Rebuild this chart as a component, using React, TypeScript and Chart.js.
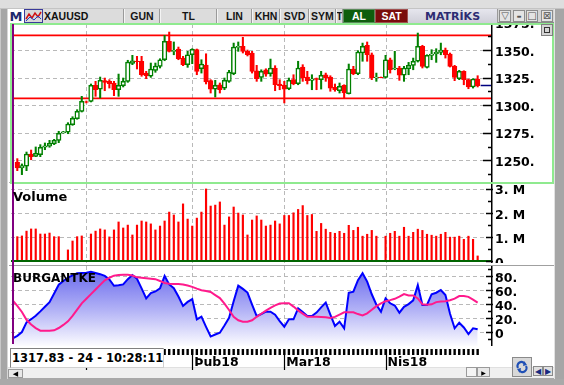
import React, { useEffect, useRef } from 'react';
import { Chart, registerables } from 'chart.js';

Chart.register(...registerables);

// ================= DATA =================
const candleOpen = [
  1248.2, 1243.0, 1244.6, 1255.7, 1253.6, 1255.1, 1261.8, 1262.7, 1265.1, 1268.1,
  1274.8, 1275.4, 1282.3, 1287.7, 1294.4, 1303.1, 1303.5, 1318.0, 1314.6, 1322.2,
  1321.6, 1320.1, 1314.0, 1317.6, 1321.6, 1337.9, 1340.0, 1339.8, 1329.1, 1326.2,
  1331.6, 1335.2, 1341.2, 1357.9, 1348.8, 1350.9, 1342.7, 1336.7, 1345.7, 1350.3,
  1333.0, 1336.4, 1322.2, 1314.6, 1318.5, 1315.5, 1321.6, 1328.5, 1352.4, 1353.4,
  1348.8, 1347.3, 1331.2, 1325.2, 1332.1, 1328.5, 1333.7, 1319.2, 1318.0, 1314.9,
  1323.1, 1319.4, 1334.6, 1325.5, 1322.5, 1324.0, 1323.1, 1327.6, 1325.5, 1316.2,
  1313.1, 1318.0, 1310.4, 1332.8, 1328.5, 1347.3, 1354.3, 1345.7, 1324.9, 1325.3,
  1325.2, 1341.2, 1332.8, 1333.7, 1327.1, 1333.0, 1336.1, 1339.8, 1353.4, 1334.3,
  1345.2, 1346.4, 1347.9, 1350.0, 1346.4, 1335.2, 1324.0, 1330.7, 1323.1, 1316.5,
  1323.7,
];
const candleClose = [
  1243.0, 1245.1, 1255.7, 1253.3, 1256.3, 1261.8, 1263.2, 1265.4, 1268.1, 1274.5,
  1275.7, 1282.9, 1288.1, 1294.4, 1303.5, 1302.6, 1318.0, 1314.0, 1322.5, 1320.7,
  1319.4, 1314.0, 1318.0, 1321.6, 1339.1, 1340.3, 1339.4, 1327.6, 1326.7, 1332.8,
  1335.5, 1341.2, 1357.9, 1348.8, 1349.7, 1342.1, 1336.7, 1345.7, 1350.6, 1330.7,
  1337.3, 1321.0, 1314.6, 1318.0, 1314.0, 1322.5, 1330.1, 1352.7, 1353.4, 1348.8,
  1345.7, 1330.7, 1324.0, 1330.7, 1328.2, 1333.7, 1318.5, 1317.6, 1314.6, 1322.5,
  1319.4, 1333.7, 1324.6, 1322.2, 1323.7, 1323.4, 1327.1, 1324.6, 1315.5, 1314.0,
  1317.1, 1311.0, 1332.8, 1328.5, 1348.2, 1353.4, 1345.7, 1324.6, 1325.5, 1325.0,
  1341.2, 1332.1, 1333.7, 1327.1, 1333.7, 1336.1, 1339.8, 1353.4, 1335.2, 1345.2,
  1346.4, 1348.2, 1350.0, 1345.7, 1335.2, 1325.2, 1330.7, 1323.1, 1316.5, 1323.7,
  1317.6,
];
const candleHigh = [
  1251.5, 1246.7, 1257.5, 1259.3, 1262.1, 1264.2, 1265.7, 1268.1, 1269.0, 1276.3,
  1276.3, 1284.1, 1289.5, 1295.9, 1308.0, 1303.8, 1319.2, 1321.6, 1325.5, 1324.6,
  1323.1, 1321.6, 1328.2, 1324.6, 1340.7, 1345.2, 1344.3, 1344.3, 1330.7, 1338.2,
  1338.2, 1342.1, 1363.3, 1366.3, 1357.3, 1352.7, 1344.3, 1348.8, 1351.2, 1350.9,
  1341.2, 1346.6, 1323.1, 1322.5, 1320.1, 1324.6, 1331.6, 1356.3, 1357.3, 1361.5,
  1350.0, 1348.8, 1336.1, 1332.1, 1333.0, 1341.8, 1335.8, 1323.1, 1321.6, 1324.6,
  1327.6, 1339.8, 1336.7, 1330.7, 1327.6, 1324.6, 1330.7, 1329.1, 1326.7, 1319.2,
  1320.1, 1318.5, 1337.3, 1335.2, 1349.4, 1356.3, 1357.3, 1347.3, 1329.1, 1325.5,
  1345.2, 1342.7, 1348.8, 1335.2, 1335.2, 1338.8, 1342.7, 1365.4, 1354.3, 1345.7,
  1350.3, 1351.2, 1356.3, 1351.8, 1347.3, 1336.1, 1331.6, 1331.2, 1323.7, 1324.0,
  1326.7,
];
const candleLow = [
  1240.6, 1237.0, 1240.6, 1250.5, 1253.3, 1253.3, 1259.6, 1261.8, 1264.2, 1266.0,
  1274.5, 1274.1, 1281.7, 1287.2, 1293.8, 1302.0, 1302.9, 1308.0, 1306.5, 1313.1,
  1315.5, 1308.6, 1308.0, 1316.5, 1320.7, 1336.7, 1332.8, 1326.2, 1324.0, 1325.2,
  1329.8, 1333.7, 1340.3, 1348.2, 1345.7, 1341.2, 1335.8, 1334.3, 1337.6, 1327.6,
  1329.1, 1319.2, 1311.0, 1307.4, 1311.0, 1314.0, 1320.7, 1327.6, 1348.8, 1347.3,
  1344.6, 1329.1, 1321.6, 1321.6, 1326.2, 1326.2, 1313.1, 1314.0, 1302.0, 1314.0,
  1318.5, 1318.5, 1321.6, 1319.2, 1314.0, 1314.0, 1314.6, 1321.6, 1312.6, 1312.6,
  1311.0, 1306.5, 1310.1, 1327.6, 1327.6, 1339.8, 1339.8, 1323.1, 1321.6, 1324.8,
  1324.6, 1329.1, 1332.1, 1322.5, 1321.6, 1327.6, 1332.1, 1339.1, 1333.7, 1333.7,
  1341.2, 1338.8, 1345.7, 1342.7, 1334.6, 1322.2, 1323.1, 1318.5, 1314.9, 1315.5,
  1316.5,
];
// volume in millions
const volumeM = [
  1.01, 1.04, 1.24, 1.33, 1.33, 1.12, 1.12, 1.16, 1.01, 1.01,
  0, 0.46, 0.83, 1.01, 1.04, 0, 1.12, 1.24, 1.33, 1.29,
  1.00, 1.29, 1.62, 1.37, 1.49, 1.08, 1.49, 1.66, 1.62, 1.54,
  1.29, 1.45, 1.66, 2.03, 1.91, 1.62, 2.37, 1.74, 1.45, 1.78,
  2.03, 2.99, 2.28, 2.32, 2.45, 1.49, 1.83, 2.24, 1.99, 1.91,
  1.08, 1.70, 1.87, 1.70, 1.45, 1.49, 1.66, 1.54, 1.89, 1.89,
  2.00, 2.14, 2.30, 1.89, 1.93, 1.23, 1.56, 1.32, 1.19, 1.15,
  1.23, 1.15, 1.48, 1.27, 1.40, 1.03, 1.11, 1.27, 1.03, 0,
  1.03, 1.15, 1.23, 1.03, 1.40, 1.03, 1.19, 1.32, 1.27, 1.11,
  1.07, 1.03, 1.11, 1.19, 0.99, 0.99, 1.03, 0.90, 1.03, 0.90,
  0.21,
];
// BURGANTKE indicator (index 0 = day before first candle)
const burgantke = [
  -9,
  -5.5, 0, 13.8, 18.3, 23.2, 29.5, 36.1, 42.6, 55, 67.6,
  72.8, 77.6, 80.9, 83.9, 84.3, 84.7, 86, 84.4, 82.6, 80.1,
  75, 66, 66.7, 68, 75.5, 81.4, 76, 62.3, 48.1, 55.6,
  57.9, 62.4, 80, 68, 62.6, 50.6, 37.3, 43, 47, 18.1,
  21.9, 7.4, -6.5, -3.6, -1, 9.3, 20.3, 44, 66.3, 61.6,
  56.4, 39, 22.6, 25.7, 29, 29, 24.6, 15.5, 7.6, 18.1,
  18.1, 33.9, 28.4, 22.9, 22.9, 27.8, 35.2, 41.9, 24.9, 8.6,
  14.7, 5.3, 56.1, 57.6, 74, 84, 72, 53.9, 39, 29,
  48, 41, 37.8, 27.6, 36, 39.9, 45.2, 67, 38.6, 38.6,
  54, 56.1, 60, 52.9, 26, 5.3, 13.3, 6.5, -2.9, 5.3,
  3.9,
];
const signalLine = [
  45,
  37.4, 28.6, 17.4, 10.8, 5.6, 1.9, 1.9, 1.9, 2.4, 5.7,
  10.1, 15.3, 23, 31.9, 41, 47.5, 54.1, 60.7, 67.3, 73.9,
  77.5, 80.5, 81.6, 81.9, 81.9, 80.6, 78.1, 77.4, 76.8, 76.1,
  75.5, 72.9, 70, 68.8, 68.6, 68.6, 67.8, 66.4, 64.5, 61.9,
  59.7, 58.6, 57.1, 52.8, 48.4, 40.4, 31.4, 21.6, 16.7, 14.7,
  14.7, 16.7, 21.7, 26.1, 30.5, 34.5, 38, 40.7, 41, 41,
  36.3, 30.9, 26.2, 21.9, 21.9, 21.9, 21.5, 21, 19.9, 21.6,
  24.9, 28.1, 28.1, 28.1, 25.6, 23.7, 26.7, 31.7, 37, 41,
  44, 45.5, 47.4, 50.4, 54.1, 52.1, 52.3, 47.9, 39.5, 39,
  39.5, 42.7, 43.7, 44.1, 45.4, 47.6, 51.4, 51.4, 50.2, 46.2,
  42,
];
const monthStarts = [16, 39, 59, 81];
const monthLabels = ['Oca18', 'Þub18', 'Mar18', 'Nis18'];
const priceTicks = [1250, 1275, 1300, 1325, 1350, 1375];
const volumeTicks = [0, 1, 2, 3];
const indicatorTicks = [0, 20, 40, 60, 80];
const trendLevels = [1363.3, 1306.2];
const lastPrice = 1317.83;
const symbol = 'XAUUSD';
const infoText = '1317.83 - 24 - 10:28:11';
const toolbarItems = [
  { t: 'GUN', x: 124, w: 36 },
  { t: 'TL', x: 160, w: 57 },
  { t: 'LIN', x: 217, w: 35 },
  { t: 'KHN', x: 252, w: 28 },
  { t: 'SVD', x: 280, w: 29 },
  { t: 'SYM', x: 309, w: 27 },
  { t: 'T', x: 336, w: 7 },
];

// ================= STYLE =================
const AXIS_FONT = { family: 'DejaVu Sans', weight: 'bold' as const, size: 12.5 };
const AXIS_FONT_CSS = 'bold 12.5px "DejaVu Sans"';
const GRID = '#b9b9b9';
const UP = '#008000';
const DOWN = '#ff0000';
const X_MIN = -0.37;
const X_MAX = 103.9;
const Y_AXIS_W = 62;

const candleIdx = candleOpen.map((_, i) => i + 1);
const isUp = (i: number) => candleClose[i] >= candleOpen[i];

function xScale(extra: any = {}) {
  return {
    type: 'linear', min: X_MIN, max: X_MAX, offset: false, bounds: 'data',
    display: false, grid: { display: false }, ...extra,
  };
}

function yScale(min: number, max: number) {
  return {
    type: 'linear', position: 'right', min, max, bounds: 'data',
    afterFit: (s: any) => { s.width = Y_AXIS_W; },
    grid: { display: false, drawTicks: false },
    border: { display: false },
    ticks: { display: false },
  };
}

function decor(major: number[], fmt: (v: number) => string, tickIn: number, tickOut: number,
  under?: (c: any) => void, over?: (c: any) => void) {
  return {
    id: 'decor',
    beforeDatasetsDraw(chart: any) {
      const { ctx, chartArea: a, scales } = chart;
      const xs = scales.x, ys = scales.y;
      ctx.save();
      ctx.strokeStyle = GRID; ctx.lineWidth = 1; ctx.setLineDash([4, 3]);
      ctx.beginPath();
      major.forEach((v) => {
        if (v <= ys.min || v >= ys.max) return;
        const p = Math.round(ys.getPixelForValue(v)) + 0.5;
        ctx.moveTo(a.left, p); ctx.lineTo(a.right, p);
      });
      monthStarts.forEach((m) => {
        const p = Math.round(xs.getPixelForValue(m)) + 0.5;
        ctx.moveTo(p, a.top); ctx.lineTo(p, a.bottom);
      });
      ctx.stroke();
      ctx.restore();
      if (under) under(chart);
    },
    afterDatasetsDraw(chart: any) {
      const { ctx, chartArea: a, scales } = chart;
      const ys = scales.y;
      if (over) over(chart);
      ctx.save();
      ctx.strokeStyle = '#000';
      ctx.lineWidth = 1.5;
      ctx.beginPath();
      ctx.moveTo(a.right + 0.75, a.top); ctx.lineTo(a.right + 0.75, a.bottom);
      ctx.stroke();
      ctx.beginPath();
      const step = major[1] - major[0];
      const all = [major[0] - step, ...major];
      all.forEach((v) => {
        const p = Math.round(ys.getPixelForValue(v)) + 0.5;
        if (p > a.top && p < a.bottom) { ctx.moveTo(a.right - tickIn, p); ctx.lineTo(a.right + tickOut, p); }
        const q = Math.round(ys.getPixelForValue(v + step / 2)) + 0.5;
        if (q > a.top && q < a.bottom) { ctx.moveTo(a.right - 3, q); ctx.lineTo(a.right + 1, q); }
      });
      ctx.stroke();
      // tick labels
      ctx.fillStyle = '#000';
      ctx.font = AXIS_FONT_CSS;
      ctx.textAlign = 'left';
      ctx.textBaseline = 'middle';
      major.forEach((v) => {
        const p = ys.getPixelForValue(v);
        ctx.fillText(fmt(v), a.right + 4, p + 2.5);
      });
      ctx.restore();
    },
  };
}

const baseOptions = {
  responsive: false,
  animation: false,
  events: [],
  layout: { padding: 0, autoPadding: false },
  plugins: { legend: { display: false }, tooltip: { enabled: false } },
};

export default function App() {
  const priceRef = useRef<HTMLCanvasElement>(null);
  const volRef = useRef<HTMLCanvasElement>(null);
  const indRef = useRef<HTMLCanvasElement>(null);

  useEffect(() => {
    const charts: any[] = [];

    // ---- price panel ----
    const priceChart = new Chart(priceRef.current as HTMLCanvasElement, {
      type: 'bar',
      data: {
        datasets: [
          {
            data: candleIdx.map((x, i) => ({ x, y: [candleLow[i], candleHigh[i]] })),
            grouped: false, barThickness: 1.4, borderWidth: 0,
            backgroundColor: candleIdx.map((_, i) => (isUp(i) ? UP : DOWN)),
            order: 2,
          } as any,
          {
            data: candleIdx.map((x, i) => ({ x, y: [candleOpen[i], candleClose[i]] })),
            grouped: false, barThickness: 4.6, borderWidth: 1.5, borderSkipped: false,
            backgroundColor: candleIdx.map((_, i) => (isUp(i) ? '#ffffff' : DOWN)),
            borderColor: candleIdx.map((_, i) => (isUp(i) ? UP : DOWN)),
            order: 1,
          } as any,
        ],
      },
      options: {
        ...baseOptions,
        scales: { x: xScale(), y: yScale(1228.5, 1373.6) },
      } as any,
      plugins: [
        decor(priceTicks, (v) => `${v}.`, 8, 0, (chart: any) => {
          const { ctx, chartArea: a, scales } = chart;
          ctx.save();
          ctx.strokeStyle = '#ff0000'; ctx.lineWidth = 1.8;
          ctx.beginPath();
          trendLevels.forEach((lv) => {
            const p = scales.y.getPixelForValue(lv);
            ctx.moveTo(a.left, p); ctx.lineTo(a.right, p);
          });
          ctx.stroke();
          ctx.restore();
        }, (chart: any) => {
          const { ctx, chartArea: a, scales } = chart;
          const p = scales.y.getPixelForValue(lastPrice);
          const x0 = scales.x.getPixelForValue(candleIdx[candleIdx.length - 1]) + 3;
          ctx.save();
          ctx.strokeStyle = '#000080'; ctx.lineWidth = 1.5;
          ctx.beginPath(); ctx.moveTo(x0, p); ctx.lineTo(a.right, p); ctx.stroke();
          ctx.restore();
        }) as any,
      ],
    });
    charts.push(priceChart);

    // ---- volume panel ----
    const volChart = new Chart(volRef.current as HTMLCanvasElement, {
      type: 'bar',
      data: {
        datasets: [
          {
            data: candleIdx.map((x, i) => ({ x, y: volumeM[i] })),
            grouped: false, barThickness: 1.5, borderWidth: 0, backgroundColor: DOWN,
          } as any,
        ],
      },
      options: {
        ...baseOptions,
        scales: { x: xScale(), y: yScale(-0.083, 3.195) },
      } as any,
      plugins: [
        decor(volumeTicks, (v) => (v === 0 ? '0' : `${v}. M`), 5, 2, undefined, (chart: any) => {
          const { ctx, chartArea: a, scales } = chart;
          const p = scales.y.getPixelForValue(0);
          ctx.save();
          ctx.strokeStyle = '#006400'; ctx.lineWidth = 2;
          ctx.beginPath(); ctx.moveTo(a.left, p); ctx.lineTo(a.right, p); ctx.stroke();
          ctx.restore();
        }) as any,
      ],
    });
    charts.push(volChart);

    // ---- indicator panel ----
    const indChart = new Chart(indRef.current as HTMLCanvasElement, {
      type: 'line',
      data: {
        datasets: [
          {
            data: signalLine.map((v, i) => ({ x: i, y: v })),
            borderColor: '#ff1a8c', borderWidth: 2, pointRadius: 0, tension: 0, fill: false,
            order: 1,
          } as any,
          {
            data: burgantke.map((v, i) => ({ x: i, y: v })),
            borderColor: '#0000ff', borderWidth: 2, pointRadius: 0, tension: 0, fill: 'start',
            backgroundColor: (c: any) => {
              const ch = c.chart; const a = ch.chartArea;
              if (!a) return 'rgba(120,120,240,0.5)';
              const g = ch.ctx.createLinearGradient(0, a.top, 0, a.bottom);
              g.addColorStop(0, 'rgb(98,98,236)');
              g.addColorStop(0.55, 'rgb(178,178,246)');
              g.addColorStop(1, 'rgb(252,252,255)');
              return g;
            },
            order: 2,
          } as any,
        ],
      },
      options: {
        ...baseOptions,
        scales: {
          x: xScale({
            display: true, position: 'bottom',
            afterBuildTicks: (s: any) => { s.ticks = monthStarts.map((v) => ({ value: v })); },
            afterFit: (s: any) => { s.height = 26; },
            grid: { display: false, drawTicks: false },
            border: { display: false },
            ticks: {
              font: AXIS_FONT, color: '#000', align: 'start', labelOffset: 2, padding: 9,
              maxRotation: 0, minRotation: 0, autoSkip: false,
              callback: (v: number) => monthLabels[monthStarts.indexOf(v)] ?? '',
            },
          }),
          y: yScale(-20, 94.29),
        },
      } as any,
      plugins: [
        decor(indicatorTicks, (v) => (v === 0 ? '0' : `${v}.`), 5, 2, undefined, (chart: any) => {
          const { ctx, chartArea: a, scales } = chart;
          ctx.save();
          ctx.fillStyle = '#000';
          candleIdx.forEach((i) => {
            const px = scales.x.getPixelForValue(i);
            ctx.fillRect(px - 1.2, a.bottom + 3, 2.4, 6);
          });
          ctx.strokeStyle = '#000'; ctx.lineWidth = 1.2;
          ctx.beginPath();
          monthStarts.forEach((m) => {
            const px = Math.round(scales.x.getPixelForValue(m)) + 0.5;
            ctx.moveTo(px, a.bottom + 3); ctx.lineTo(px, a.bottom + 24);
          });
          ctx.stroke();
          ctx.restore();
        }) as any,
      ],
    });
    charts.push(indChart);

    return () => charts.forEach((c) => c.destroy());
  }, []);

  const abs = (l: number, t: number, w: number, h: number, extra: any = {}) => ({
    position: 'absolute' as const, left: l, top: t, width: w, height: h, boxSizing: 'border-box' as const, ...extra,
  });
  const tbFont = { fontFamily: '"Liberation Sans", Arial, sans-serif', fontWeight: 'bold' as const, fontSize: 10.5 };
  const center = { display: 'flex', alignItems: 'center', justifyContent: 'center' };

  return (
    <div style={{ position: 'fixed', left: 0, top: 0, width: 564, height: 385, background: '#a9a9a9', overflow: 'hidden' }}>
      {/* frame */}
      <div style={abs(0, 0, 564, 9, { background: '#dedede', borderBottom: '1px solid #c4c4c4' })} />
      <div style={abs(0, 9, 8, 370, { background: '#a6a6a6', borderRight: '1px solid #d6d6d6', borderLeft: '1px solid #c8c8c8' })} />
      <div style={abs(554, 9, 10, 370, { background: '#a6a6a6', borderLeft: '1px solid #e2e2e2' })} />
      <div style={abs(8, 23, 546, 345, { background: '#ffffff' })} />
      <div style={abs(8, 367, 546, 11, { background: '#f0f0f0', borderTop: '1px solid #e0e0e0' })} />

      {/* toolbar */}
      <div style={abs(8, 9, 546, 14, { background: '#d4d4d4', borderBottom: '1px solid #8a8a8a' })} />
      <div style={abs(8, 9, 16, 14, { background: '#fff', ...center, fontFamily: 'DejaVu Sans', fontWeight: 'bold', fontSize: 13, color: '#1e2a6e' })}>M</div>
      <div style={abs(24, 9, 19, 14, { background: '#d8d8d8', border: '1px solid #3a3a9a' })}>
        <svg width="17" height="12" style={{ position: 'absolute', left: 0, top: 0 }}>
          <polyline points="1,9 4,4 7,8 10,3 13,7 16,2" fill="none" stroke="#d01010" strokeWidth="1.5" />
          <polyline points="1,11 5,7 9,10 13,6 16,9" fill="none" stroke="#2040c0" strokeWidth="1" />
        </svg>
      </div>
      <div style={abs(43, 9, 81, 14, { background: '#dcdcdc', borderRight: '1px solid #9a9a9a', ...tbFont, color: '#111', display: 'flex', alignItems: 'center', paddingLeft: 1 })}>{symbol}</div>
      {toolbarItems.map((it) => (
        <div key={it.t + it.x} style={abs(it.x, 9, it.w, 14, { background: '#dcdcdc', borderRight: '1px solid #9a9a9a', borderLeft: '1px solid #f4f4f4', ...tbFont, color: '#151515', ...center, overflow: 'hidden' })}>{it.t}</div>
      ))}
      <div style={abs(343, 9, 32, 14, { background: '#0d5e0d', border: '1px solid #5a8a5a', ...tbFont, color: '#fff', ...center })}>AL</div>
      <div style={abs(375, 9, 33, 14, { background: '#7a0c0c', border: '1px solid #a05050', ...tbFont, color: '#fff', ...center })}>SAT</div>
      <div style={abs(408, 9, 90, 14, { background: 'linear-gradient(#e6e6ee, #cfcfd9)', borderRight: '1px solid #9a9a9a', fontFamily: 'DejaVu Sans', fontWeight: 'bold', fontSize: 11, color: '#2c2c72', ...center })}>MATRİKS</div>
      {[
        { x: 498, t: '▽' }, { x: 512, t: '▬' }, { x: 525, t: '□' }, { x: 540, t: '⊠' },
      ].map((b) => (
        <div key={b.x} style={abs(b.x + 1, 10, 12, 12, { background: '#e4e4e4', border: '1px solid #8c8c8c', fontSize: b.t === '▬' ? 5 : 10, color: '#555', ...center, fontFamily: 'DejaVu Sans', lineHeight: 1 })}>{b.t}</div>
      ))}

      {/* charts */}
      <canvas ref={priceRef} width={542} height={160} style={{ position: 'absolute', left: 11, top: 24, width: 542, height: 160 }} />
      <canvas ref={volRef} width={542} height={79} style={{ position: 'absolute', left: 11, top: 184, width: 542, height: 79 }} />
      <canvas ref={indRef} width={542} height={106} style={{ position: 'absolute', left: 11, top: 266, width: 542, height: 106 }} />

      {/* panel borders */}
      <div style={abs(9, 265, 545, 1, { background: '#a0a0a0' })} />
      <div style={abs(9, 182, 545, 1, { background: '#b0b0b0' })} />
      <div style={abs(10, 23, 544, 161, { border: '2px solid #8fea8f' })} />
      <div style={abs(12, 24, 1.5, 320, { background: '#800080' })} />

      {/* panel titles */}
      <div style={abs(13, 190, 80, 14, { fontFamily: 'DejaVu Sans', fontWeight: 'bold', fontSize: 13, lineHeight: '13px', color: '#000' })}>Volume</div>
      <div style={abs(13, 272, 120, 14, { fontFamily: 'DejaVu Sans', fontWeight: 'bold', fontSize: 12, lineHeight: '12px', color: '#000' })}>BURGANTKE</div>

      {/* maximize button */}
      <div style={abs(541, 24, 12, 12, { background: '#d4d4d4', border: '1px solid #808080', ...center })}>
        <div style={{ width: 6, height: 6, border: '1.5px solid #333', boxSizing: 'border-box' }} />
      </div>

      {/* info box */}
      <div style={abs(10, 348, 154, 20, { background: '#fff', borderTop: '1px solid #808080', borderLeft: '1px solid #808080', borderRight: '1px solid #d0d0d0', borderBottom: '1px solid #d0d0d0', fontFamily: 'DejaVu Sans', fontWeight: 'bold', fontSize: 11.5, color: '#000', display: 'flex', alignItems: 'center', paddingLeft: 1, whiteSpace: 'nowrap' })}>{infoText}</div>

      {/* bottom controls */}
      <div style={abs(8, 369, 15, 9, { background: '#e8e8e8', border: '1px solid #9a9a9a', ...center, fontSize: 7, color: '#000', fontFamily: 'DejaVu Sans' })}>◀</div>
      <div style={abs(466, 367, 11, 10, { background: '#f4f4f4', border: '1px solid #9a9a9a' })} />
      <div style={abs(477, 367, 13, 10, { background: '#e8e8e8', border: '1px solid #9a9a9a', ...center, fontSize: 6, color: '#000', fontFamily: 'DejaVu Sans' })}>▶</div>
      <div style={abs(512, 357, 20, 20, { background: '#d8d8d8', border: '1px solid #8a8a8a', ...center })}>
        <svg width="14" height="14">
          <path d="M3 8 A4 4 0 0 1 10 4" fill="none" stroke="#1f4fb5" strokeWidth="2.2" />
          <polygon points="9,1 12,5 8,6" fill="#1f4fb5" />
          <path d="M11 6 A4 4 0 0 1 4 10" fill="none" stroke="#1f4fb5" strokeWidth="2.2" />
          <polygon points="5,13 2,9 6,8" fill="#1f4fb5" />
        </svg>
      </div>
      <div style={abs(533, 366, 10, 10, { background: '#e0e0e0', border: '1px solid #8a8a8a', ...center, fontSize: 8, color: '#1a2a80', fontFamily: 'DejaVu Sans' })}>◀</div>
      <div style={abs(543, 366, 10, 10, { background: '#e0e0e0', border: '1px solid #8a8a8a', ...center, fontSize: 8, color: '#1a2a80', fontFamily: 'DejaVu Sans' })}>▶</div>
    </div>
  );
}
